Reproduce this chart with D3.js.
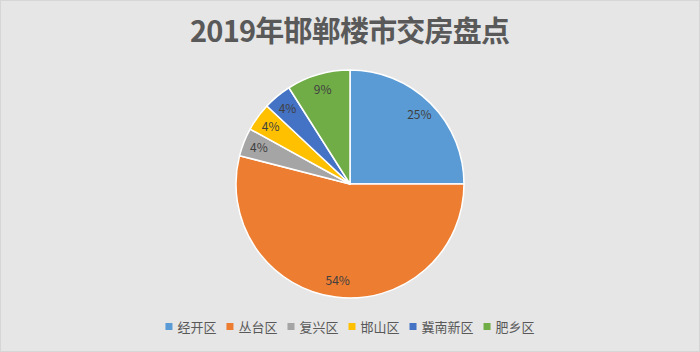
<!DOCTYPE html>
<html>
<head>
<meta charset="utf-8">
<script src="https://cdn.jsdelivr.net/npm/d3@7"></script>
<style>
  body { margin: 0; background: #e6e6e6; }
  svg { display: block; font-family: "Noto Sans CJK SC", "Noto Sans", sans-serif; }
</style>
</head>
<body>
<svg id="chart" width="700" height="352"></svg>
<script>
var categories = ['经开区', '丛台区', '复兴区', '邯山区', '冀南新区', '肥乡区'];
var values = [25, 54, 4, 4, 4, 9];
var colors = ['#5b9bd5', '#ed7d31', '#a5a5a5', '#ffc000', '#4472c4', '#70ad47'];
var title = '2019年邯郸楼市交房盘点';

var svg = d3.select('#chart');
var width = +svg.attr('width'), height = +svg.attr('height');

// background with faint frame
svg.append('rect').attr('x', 0).attr('y', 0).attr('width', width).attr('height', height).attr('fill', '#e6e6e6');
svg.append('rect').attr('x', 0.5).attr('y', 0.5).attr('width', width - 1).attr('height', height - 1)
	.attr('fill', 'none').attr('stroke', '#d6d6d6').attr('stroke-width', 1);

// title
svg.append('text').attr('x', width / 2).attr('y', 42).attr('text-anchor', 'middle')
	.attr('font-size', 29).attr('font-weight', 'bold').attr('fill', '#595959')
	.attr('textLength', 320).attr('lengthAdjust', 'spacing')
	.text(title);

// pie
var cx = 350, cy = 184, r = 114;
var data = categories.map((c, i) => ({name: c, value: values[i], color: colors[i]}));
var pie = d3.pie().value(d => d.value).sort(null);
var arc = d3.arc().innerRadius(0).outerRadius(r);
var label_arc = d3.arc().innerRadius(r * 0.86).outerRadius(r * 0.86);
var total = d3.sum(values);

var g = svg.append('g').attr('transform', 'translate(' + cx + ',' + cy + ')');
var arcs = pie(data);
g.selectAll('path').data(arcs).enter().append('path')
	.attr('d', arc).attr('fill', d => d.data.color)
	.attr('stroke', '#ffffff').attr('stroke-width', 1.5).attr('stroke-linejoin', 'round');

g.selectAll('text').data(arcs).enter().append('text')
	.attr('transform', d => 'translate(' + label_arc.centroid(d) + ')')
	.attr('text-anchor', 'middle').attr('dy', '0.35em')
	.attr('font-size', 12).attr('fill', '#404040')
	.text(d => Math.round(d.data.value / total * 100) + '%');

// legend
var legend = svg.append('g').attr('transform', 'translate(0,327)');
var items = legend.selectAll('g').data(data).enter().append('g');
items.append('rect').attr('x', 0).attr('y', -4).attr('width', 7).attr('height', 7).attr('fill', d => d.color);
items.append('text').attr('x', 12).attr('y', 0).attr('dy', '0.36em')
	.attr('font-size', 13).attr('fill', '#595959').text(d => d.name);

var widths = [];
items.each(function() { widths.push(12 + this.querySelector('text').getComputedTextLength()); });
var gap = 10;
var total_w = d3.sum(widths) + gap * (widths.length - 1);
var x = (width - total_w) / 2;
items.each(function(d, i) {
	d3.select(this).attr('transform', 'translate(' + x + ',0)');
	x += widths[i] + gap;
});
</script>
</body>
</html>
